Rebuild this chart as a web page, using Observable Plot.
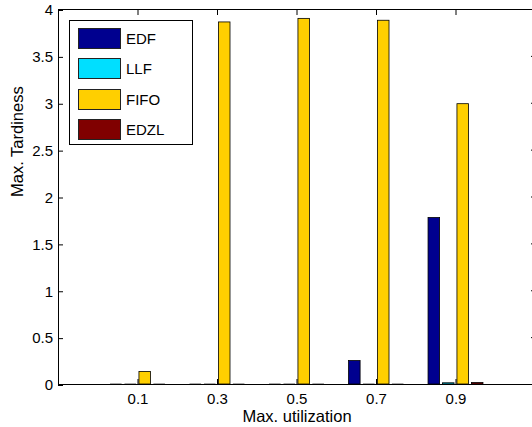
<!DOCTYPE html>
<html>
<head>
<meta charset="utf-8">
<script src="https://cdn.jsdelivr.net/npm/d3@7"></script>
<script src="https://cdn.jsdelivr.net/npm/@observablehq/plot@0.6"></script>
<style>
  html, body { margin: 0; padding: 0; background: #fff; overflow: hidden; }
  #wrap { position: relative; width: 532px; height: 427px; overflow: hidden; font-family: "Liberation Sans", Arial, Helvetica, sans-serif; }
  #wrap svg { max-width: none !important; display: block; }
  #legend { position: absolute; left: 69px; top: 20px; width: 124px; height: 125px; border: 1px solid #000; background: #fff; box-sizing: border-box; }
  .item { position: absolute; left: 8px; height: 23px; display: flex; align-items: center; font-size: 15px; color: #000; }
  .sw { width: 43px; height: 21px; border: 1px solid #222; margin-right: 5px; box-sizing: border-box; }
</style>
</head>
<body>
<div id="wrap"></div>
<script>
const utilization = [0.1, 0.3, 0.5, 0.7, 0.9];
const seriesNames = ["EDF", "LLF", "FIFO", "EDZL"];
const edf  = [0, 0, 0, 0.25, 1.776];
const llf  = [0, 0, 0, 0, 0.013];
const fifo = [0.134, 3.862, 3.90, 3.88, 2.99];
const edzl = [0, 0, 0, 0, 0.016];
const seriesColors = ["#00008F", "#00DFFF", "#FFCF00", "#800000"];
const yTicks = [0, 0.5, 1, 1.5, 2, 2.5, 3, 3.5, 4];
const xTicks = utilization;
const xLabel = "Max. utilization";
const yLabel = "Max. Tardiness";

const valuesBySeries = [edf, llf, fifo, edzl];
const rows = [];
seriesNames.forEach((s, i) => {
  utilization.forEach((u, j) => rows.push({u, series: s, si: i, value: valuesBySeries[i][j]}));
});

// MATLAB grouped-bar geometry
const spacing = 0.2;
const groupWidth = spacing * Math.min(0.8, 4 / (4 + 1.5));
const slot = groupWidth / 4;
const barW = slot * 0.8;
const cx = d => d.u + (d.si - 1.5) * slot;

const font = '"Liberation Sans", Arial, Helvetica, sans-serif';

const chart = Plot.plot({
  width: 540,
  height: 427,
  marginLeft: 58,
  marginRight: 5,
  marginTop: 9,
  marginBottom: 43,
  style: {fontFamily: font, fontSize: "15px", background: "#fff", overflow: "visible", maxWidth: "none"},
  x: {domain: [-0.1, 1.1]},
  y: {domain: [0, 4]},
  color: {domain: seriesNames, range: seriesColors},
  marks: [
    Plot.rect(rows.filter(d => d.value > 0), {
      x1: d => cx(d) - barW / 2,
      x2: d => cx(d) + barW / 2,
      y1: 0,
      y2: "value",
      fill: "series",
      stroke: "#000",
      strokeWidth: 0.8
    }),
    Plot.ruleY(rows.filter(d => d.value === 0), {
      x1: d => cx(d) - barW / 2,
      x2: d => cx(d) + barW / 2,
      y: 0,
      dy: -1,
      stroke: "#aaa",
      strokeWidth: 1
    }),
    Plot.frame({stroke: "#000", strokeWidth: 1}),
    Plot.axisY(yTicks, {anchor: "left", tickSize: -5, tickPadding: 10.5, tickFormat: d => String(d), label: null, fontSize: 15, dy: 1}),
    Plot.axisY(yTicks, {anchor: "right", tickSize: -5, tickFormat: () => "", label: null}),
    Plot.axisX(xTicks, {anchor: "bottom", tickSize: -5, tickPadding: 14, tickFormat: d => d.toFixed(1), label: null, fontSize: 15}),
    Plot.axisX(xTicks, {anchor: "top", tickSize: -5, tickFormat: () => "", label: null}),
    Plot.text([xLabel], {frameAnchor: "bottom", lineAnchor: "bottom", dy: 37, text: d => d, fontSize: 16.5, fill: "#000"}),
    Plot.text([yLabel], {frameAnchor: "left", rotate: -90, dx: -41, text: d => d, fontSize: 16.5, fill: "#000"})
  ]
});

const wrap = document.getElementById("wrap");
wrap.appendChild(chart);

const legend = document.createElement("div");
legend.id = "legend";
seriesNames.forEach((s, i) => {
  const item = document.createElement("div");
  item.className = "item";
  item.style.top = (6 + i * 30.3) + "px";
  const sw = document.createElement("div");
  sw.className = "sw";
  sw.style.background = seriesColors[i];
  const lab = document.createElement("span");
  lab.textContent = s;
  item.appendChild(sw);
  item.appendChild(lab);
  legend.appendChild(item);
});
wrap.appendChild(legend);
</script>
</body>
</html>
